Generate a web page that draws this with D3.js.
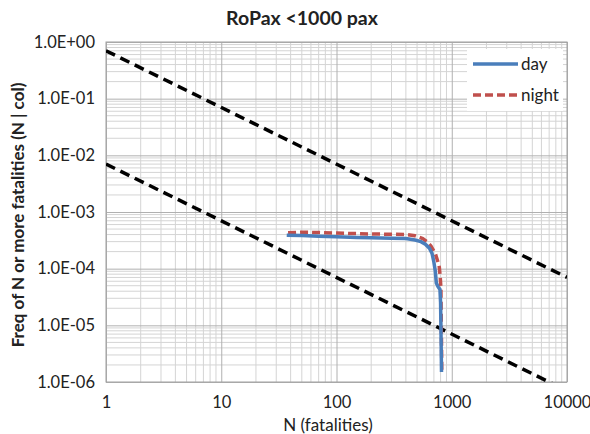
<!DOCTYPE html>
<html>
<head>
<meta charset="utf-8">
<script src="https://cdn.jsdelivr.net/npm/d3@7"></script>
<style>
  body { margin: 0; background: #fff; }
  text { font-family: Lato, "Open Sans", sans-serif; fill: #222; }
</style>
</head>
<body>
<svg id="chart"></svg>
<script>
const width = 590;
const height = 434;

// data
const dayN = [37, 50, 70, 100, 150, 200, 300, 400, 480, 540, 590, 640, 675, 700, 720, 735, 760, 790, 800, 805, 810, 815];
const dayF = [3.9e-4, 3.85e-4, 3.75e-4, 3.65e-4, 3.55e-4, 3.5e-4, 3.45e-4, 3.4e-4, 3.2e-4, 3.0e-4, 2.7e-4, 2.3e-4, 1.85e-4, 1.3e-4, 9e-5, 5.6e-5, 4.8e-5, 4.3e-5, 2.5e-5, 1e-5, 4e-6, 1.5e-6];
const nightN = [38, 50, 70, 100, 150, 200, 300, 400, 480, 560, 610, 660, 720, 760, 780, 795, 805, 812, 820];
const nightF = [4.3e-4, 4.4e-4, 4.35e-4, 4.25e-4, 4.15e-4, 4.1e-4, 4.05e-4, 4.0e-4, 3.8e-4, 3.4e-4, 3.0e-4, 2.5e-4, 1.85e-4, 1.3e-4, 1.06e-4, 7e-5, 4.6e-5, 1e-5, 1.4e-6];

// criterion lines  F = C / N
const critN = [1, 10000];
const critUpper = [0.7, 7e-5];
const critLower = [7e-3, 7e-7];

const xTicks = [1, 10, 100, 1000, 10000];
const yTicks = [1, 1e-1, 1e-2, 1e-3, 1e-4, 1e-5, 1e-6];

const margin = { left: 106, right: 23, top: 42, bottom: 52 };

const svg = d3.select("#chart").attr("width", width).attr("height", height);

const x = d3.scaleLog().domain([1, 10000]).range([margin.left, width - margin.right]);
const y = d3.scaleLog().domain([1e-6, 1]).range([height - margin.bottom, margin.top]);

// minor grid values (2..9 per decade)
let minorX = [];
for (let d = 1; d < 10000; d *= 10) for (let k = 2; k < 10; k++) minorX.push(d * k);
let minorY = [];
for (let d = 1e-6; d < 0.99; d *= 10) for (let k = 2; k < 10; k++) minorY.push(d * k);

const grid = svg.append("g");
grid.selectAll(".mx").data(minorX).enter().append("line")
  .attr("x1", d => x(d)).attr("x2", d => x(d))
  .attr("y1", y(1)).attr("y2", y(1e-6))
  .attr("stroke", "#d4d4d4").attr("stroke-width", 1);
grid.selectAll(".my").data(minorY).enter().append("line")
  .attr("y1", d => y(d)).attr("y2", d => y(d))
  .attr("x1", x(1)).attr("x2", x(10000))
  .attr("stroke", "#d4d4d4").attr("stroke-width", 1);

// major grid + labels through axes
const xAxis = svg.append("g")
  .attr("transform", `translate(0,${y(1e-6)})`)
  .call(d3.axisBottom(x).tickValues(xTicks).tickFormat(d3.format("d"))
    .tickSize(-(y(1e-6) - y(1))).tickPadding(14));
xAxis.select(".domain").remove();
xAxis.selectAll("line").attr("stroke", "#b0b0b0");
xAxis.selectAll("text").style("font-size", "16.5px").attr("fill", "#222");

const fmtY = d => {
  const e = Math.round(Math.log10(d));
  return "1.0E" + (e < 0 ? "-" : "+") + String(Math.abs(e)).padStart(2, "0");
};
const yAxis = svg.append("g")
  .attr("transform", `translate(${x(1)},0)`)
  .call(d3.axisLeft(y).tickValues(yTicks).tickFormat(fmtY)
    .tickSize(-(x(10000) - x(1))).tickPadding(11));
yAxis.select(".domain").remove();
yAxis.selectAll("line").attr("stroke", "#b0b0b0");
yAxis.selectAll("text").style("font-size", "16.5px").attr("fill", "#222");

// plot border
svg.append("rect")
  .attr("x", x(1)).attr("y", y(1))
  .attr("width", x(10000) - x(1)).attr("height", y(1e-6) - y(1))
  .attr("fill", "none").attr("stroke", "#a0a0a0");

svg.append("clipPath").attr("id", "plotClip").append("rect")
  .attr("x", x(1)).attr("y", y(1))
  .attr("width", x(10000) - x(1)).attr("height", y(1e-6) - y(1));

const plot = svg.append("g").attr("clip-path", "url(#plotClip)");

const line = d3.line().x(d => x(d[0])).y(d => y(d[1]));

// criterion lines
[critUpper, critLower].forEach(c => {
  plot.append("path")
    .datum(d3.zip(critN, c))
    .attr("d", line)
    .attr("fill", "none").attr("stroke", "#000")
    .attr("stroke-width", 3.5).attr("stroke-dasharray", "10,6");
});

// legend background hides grid
const legend = svg.append("g");
legend.append("rect")
  .attr("x", 467).attr("y", 49).attr("width", 96).attr("height", 62)
  .attr("fill", "#fff");

plot.append("path")
  .datum(d3.zip(nightN, nightF))
  .attr("d", line)
  .attr("fill", "none").attr("stroke", "#c0504d")
  .attr("stroke-width", 3.5).attr("stroke-dasharray", "8,4");

plot.append("path")
  .datum(d3.zip(dayN, dayF))
  .attr("d", line)
  .attr("fill", "none").attr("stroke", "#4a7ebb")
  .attr("stroke-width", 3.5);

const legendItems = [
  { name: "day", color: "#4a7ebb", dash: null, y: 64 },
  { name: "night", color: "#c0504d", dash: "8,4", y: 95 }
];
legendItems.forEach(it => {
  legend.append("line")
    .attr("x1", 473).attr("x2", 518).attr("y1", it.y).attr("y2", it.y)
    .attr("stroke", it.color).attr("stroke-width", 3.5)
    .attr("stroke-dasharray", it.dash);
  legend.append("text")
    .attr("x", 521).attr("y", it.y).attr("dy", "0.35em")
    .style("font-size", "17px").text(it.name);
});

// titles
svg.append("text")
  .attr("x", 302).attr("y", 25).attr("text-anchor", "middle")
  .style("font-size", "19.5px").style("font-weight", "bold")
  .text("RoPax <1000 pax");

svg.append("text")
  .attr("x", 328).attr("y", 431).attr("text-anchor", "middle")
  .style("font-size", "17px")
  .text("N (fatalities)");

svg.append("text")
  .attr("transform", `translate(24,215) rotate(-90)`)
  .attr("text-anchor", "middle")
  .style("font-size", "17px").style("font-weight", "bold")
  .text("Freq of N or more fatalities (N | col)");
</script>
</body>
</html>
